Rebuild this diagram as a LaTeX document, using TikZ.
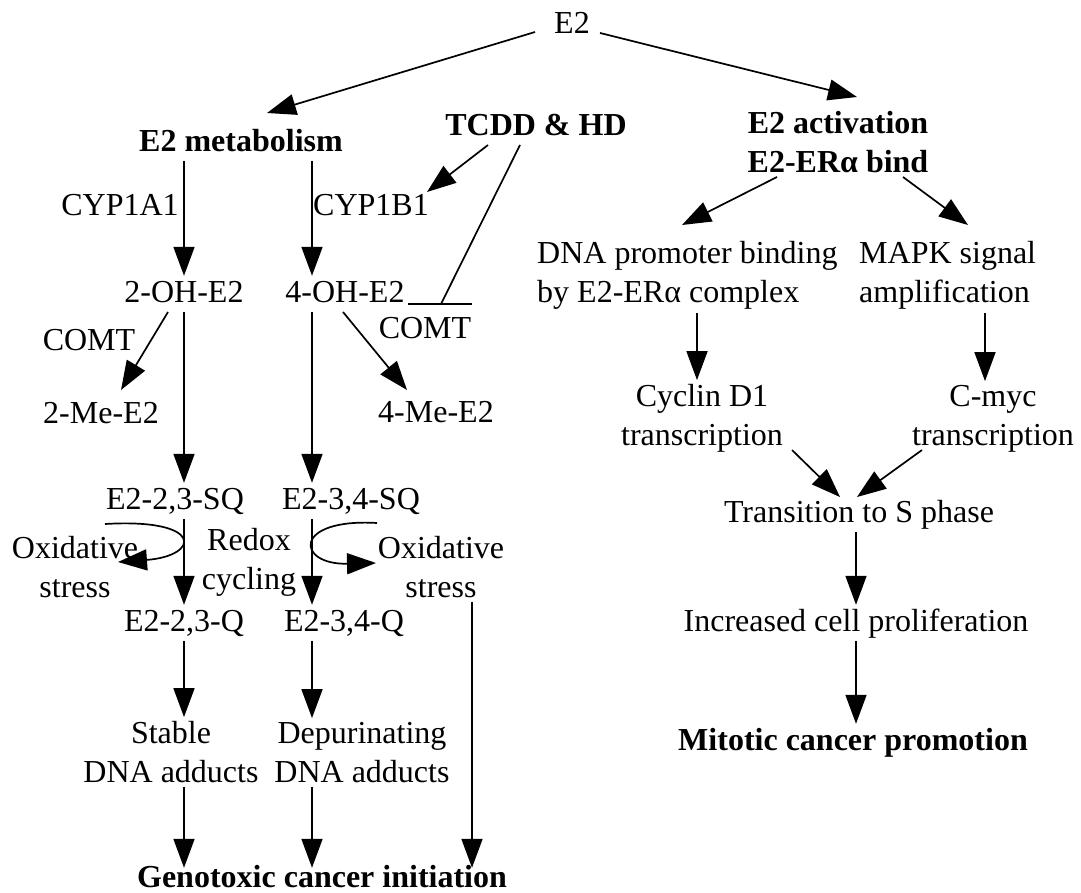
\documentclass[tikz,border=0pt]{standalone}
\usepackage{fontspec}
\setmainfont{Liberation Serif}
\usetikzlibrary{arrows.meta}

\begin{document}
\begin{tikzpicture}[x=1pt,y=-1pt,
  every node/.style={font=\fontsize{32}{38.5}\selectfont,inner xsep=2pt,inner ysep=4pt,anchor=base},
  sgl/.style={text height=22pt,text depth=6pt},
  dbl/.style={align=center},
  hd/.style={font=\fontsize{32}{38.5}\selectfont\bfseries},
  arr/.style={line width=1.7pt,-{Triangle[length=29pt,width=21pt]}}]
\useasboundingbox (0,0) rectangle (1081,892);
\coordinate (colA) at (184,0);
\coordinate (colB) at (312,0);
\coordinate (colC) at (472,0);
\coordinate (colD) at (697,0);
\coordinate (colE) at (985,0);
\coordinate (colF) at (856,0);

\node[sgl] (e2) at (572,33) {E2};
\node[sgl,hd] (emet) at (241,151) {E2 metabolism};
\node[sgl,hd] (tcdd) at (536,135) {TCDD \& HD};
\node[dbl,hd] (eact) at (838,172) {E2 activation\\E2-ERα bind};
\node[sgl] (cypa) at (120,215) {CYP1A1};
\node[sgl] (cypb) at (371,215) {CYP1B1};
\node[sgl] (ohtwo) at (184,302) {2-OH-E2};
\node[sgl] (ohfour) at (345,302) {4-OH-E2};
\node[sgl] (comtl) at (89,350) {COMT};
\node[sgl] (comtr) at (425,338) {COMT};
\node[sgl] (metwo) at (101,423) {2-Me-E2};
\node[sgl] (mefour) at (436,422) {4-Me-E2};
\node[sgl] (sqtwo) at (175,509) {E2-2,3-SQ};
\node[sgl] (sqfour) at (351,509) {E2-3,4-SQ};
\node[dbl] (oxl) at (75,597) {Oxidative\\stress};
\node[dbl] (redox) at (249,589) {Redox\\cycling};
\node[dbl] (oxr) at (441,597) {Oxidative\\stress};
\node[sgl] (qtwo) at (184,631) {E2-2,3-Q};
\node[sgl] (qfour) at (344,631) {E2-3,4-Q};
\node[dbl] (stab) at (171,782) {Stable\\DNA adducts};
\node[dbl] (depur) at (362,782) {Depurinating\\DNA adducts};
\node[sgl,hd] (geno) at (322,887) {Genotoxic cancer initiation};

\node[dbl,align=left,anchor=base west] (dnab) at (535,302) {DNA promoter binding\\by E2-ERα complex};
\node[dbl,align=left,anchor=base west] (mapk) at (857,302) {MAPK signal\\amplification};
\node[dbl] (cyc) at (702,445) {Cyclin D1\\transcription};
\node[dbl] (cmyc) at (993,445) {C-myc\\transcription};
\node[sgl] (trans) at (859,522) {Transition to S phase};
\node[sgl] (incr) at (856,631) {Increased cell proliferation};
\node[sgl,hd] (mito) at (853,750) {Mitotic cancer promotion};

\coordinate (inh) at ([shift={(96,2)}]ohfour.base);

\draw[arr] ([shift={(-37,-1)}]e2.base) -- ([shift={(26,-38)}]emet.base);
\draw[arr] ([shift={(28,0)}]e2.base) -- ([shift={(19,-75)}]eact.base);
\draw[arr] (emet.south -| colA) -- (ohtwo.north -| colA);
\draw[arr] (emet.south -| colB) -- (ohfour.north -| colB);
\draw[arr] ([shift={(-48,10)}]tcdd.base) -- ([shift={(56,-23)}]cypb.base);
\draw[line width=1.7pt] ([shift={(-16,10)}]tcdd.base) -- (inh);
\draw[line width=1.7pt] ([shift={(-33,0)}]inh) -- ([shift={(31,0)}]inh);
\draw[arr] ([shift={(-16,10)}]ohtwo.base) -- ([shift={(20,-33)}]metwo.base);
\draw[arr] ([shift={(-2,10)}]ohfour.base) -- ([shift={(-29,-32)}]mefour.base);
\draw[arr] (ohtwo.south -| colA) -- (sqtwo.north -| colA);
\draw[arr] (ohfour.south -| colB) -- (sqfour.north -| colB);
\draw[arr] (sqtwo.south -| colA) -- (qtwo.north -| colA);
\draw[arr] (sqfour.south -| colB) -- (qfour.north -| colB);
\draw[arr] ([shift={(-70,15)}]sqtwo.base) .. controls +(100,-6) and +(82,-6) .. ([shift={(43,-35)}]oxl.base);
\draw[arr] ([shift={(26,14)}]sqfour.base) .. controls +(-85,-5) and +(-80,2) .. ([shift={(-65,-34)}]oxr.base);
\draw[arr] (qtwo.south -| colA) -- (stab.north -| colA);
\draw[arr] (qfour.south -| colB) -- (depur.north -| colB);
\draw[arr,shorten >=-7pt] (stab.south -| colA) -- (geno.north -| colA);
\draw[arr,shorten >=-7pt] (depur.south -| colB) -- (geno.north -| colB);
\draw[arr,shorten >=-7pt] (oxr.south -| colC) -- (geno.north -| colC);

\draw[arr] ([shift={(-61,5)}]eact.base) -- ([shift={(147,-77)}]dnab.base west);
\draw[arr] ([shift={(65,5)}]eact.base) -- ([shift={(111,-77)}]mapk.base west);
\draw[arr] (dnab.south -| colD) -- (cyc.north -| colD);
\draw[arr] (mapk.south -| colE) -- (cmyc.north -| colE);
\draw[arr] ([shift={(90,5)}]cyc.base) -- ([shift={(-19,-25)}]trans.base);
\draw[arr] ([shift={(-71,5)}]cmyc.base) -- ([shift={(-2,-25)}]trans.base);
\draw[arr] (trans.south -| colF) -- (incr.north -| colF);
\draw[arr] (incr.south -| colF) -- (mito.north -| colF);
\end{tikzpicture}
\end{document}
